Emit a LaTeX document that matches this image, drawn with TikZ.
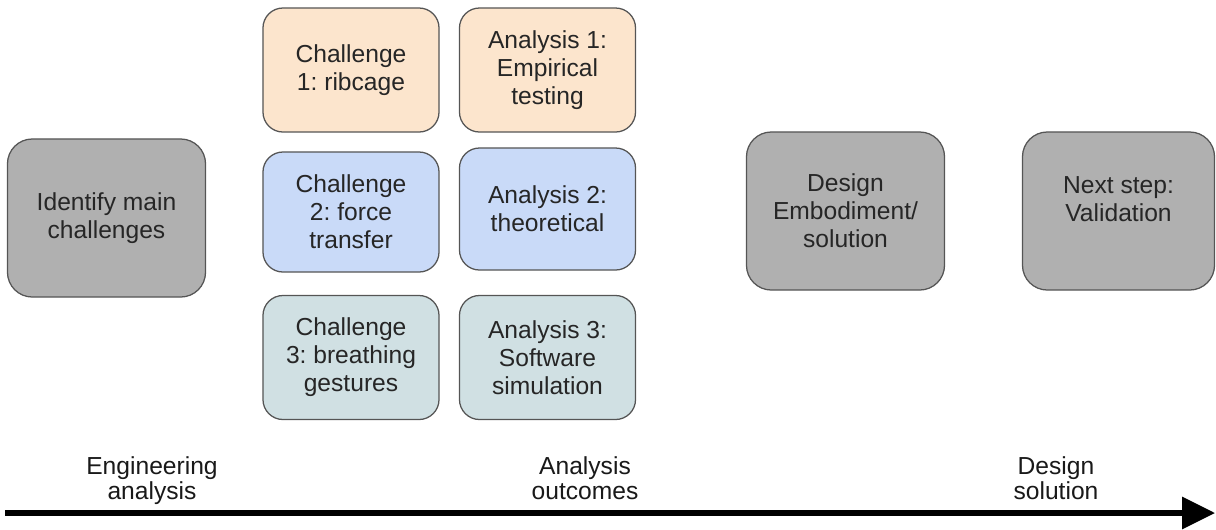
\documentclass[tikz,border=0pt]{standalone}
\usepackage{fontspec}
\setmainfont{Liberation Sans}
\usepackage{tikz}
\usetikzlibrary{arrows.meta}
\frenchspacing
\definecolor{orangec}{HTML}{FCE5CD}
\definecolor{bluec}{HTML}{C9DAF8}
\definecolor{tealc}{HTML}{D0E0E3}
\definecolor{grayc}{HTML}{B0B0B0}
\definecolor{edgec}{HTML}{555555}
\tikzset{
  blk/.style={rectangle,rounded corners=0.55cm,draw=edgec,line width=0.9pt,align=center,inner sep=2pt,
    font=\fontsize{17.5}{20}\selectfont,text=black!85},
  sml/.style={blk,minimum width=4.4cm,minimum height=3.1cm,rounded corners=0.5cm},
  big/.style={blk,minimum width=4.95cm,minimum height=3.95cm,fill=grayc,rounded corners=0.62cm},
  lbl/.style={anchor=north,align=center,inner sep=0pt,font=\fontsize{17.5}{17.8}\selectfont,text=black!90},
  axis/.style={-{Triangle[length=0.82cm,width=0.78cm]},line width=3.6pt,black},
}
\begin{document}
\begin{tikzpicture}[x=0.025cm,y=-0.025cm]
  \useasboundingbox (0,0) rectangle (1216,529);
  % first step
  \node[big](id) at (106.5,218){Identify main\\challenges};
  % challenges and analyses
  \node[sml,fill=orangec](c1) at (351,70){Challenge\\1: ribcage};
  \node[sml,fill=orangec](a1) at (547.5,70){Analysis 1:\\Empirical\\testing};
  \node[sml,fill=bluec,minimum height=3cm](c2) at (351,212){Challenge\\2: force\\transfer};
  \node[sml,fill=bluec,minimum height=3.05cm](a2) at (547.5,209){Analysis 2:\\theoretical};
  \node[sml,fill=tealc](c3) at (351,357.5){Challenge\\3: breathing\\gestures};
  \node[sml,fill=tealc](a3) at (547.5,357.5){Analysis 3:\\Software\\simulation};
  % design and validation
  \node[big](de) at (845.5,211){Design\\Embodiment/\\solution};
  \node[big,minimum width=4.8cm](nx) at (1118.5,211){Next step:\\Validation\\[-0.2em]};
  % time line
  \coordinate (t0) at (5,513); \coordinate (t1) at (1215,513);
  \draw[axis](t0)--(t1);
  \node[lbl](l1) at (152,456){Engineering\\analysis};
  \node[lbl](l2) at (585,456){Analysis\\outcomes};
  \node[lbl](l3) at (1056,456){Design\\solution};
\end{tikzpicture}
\end{document}
